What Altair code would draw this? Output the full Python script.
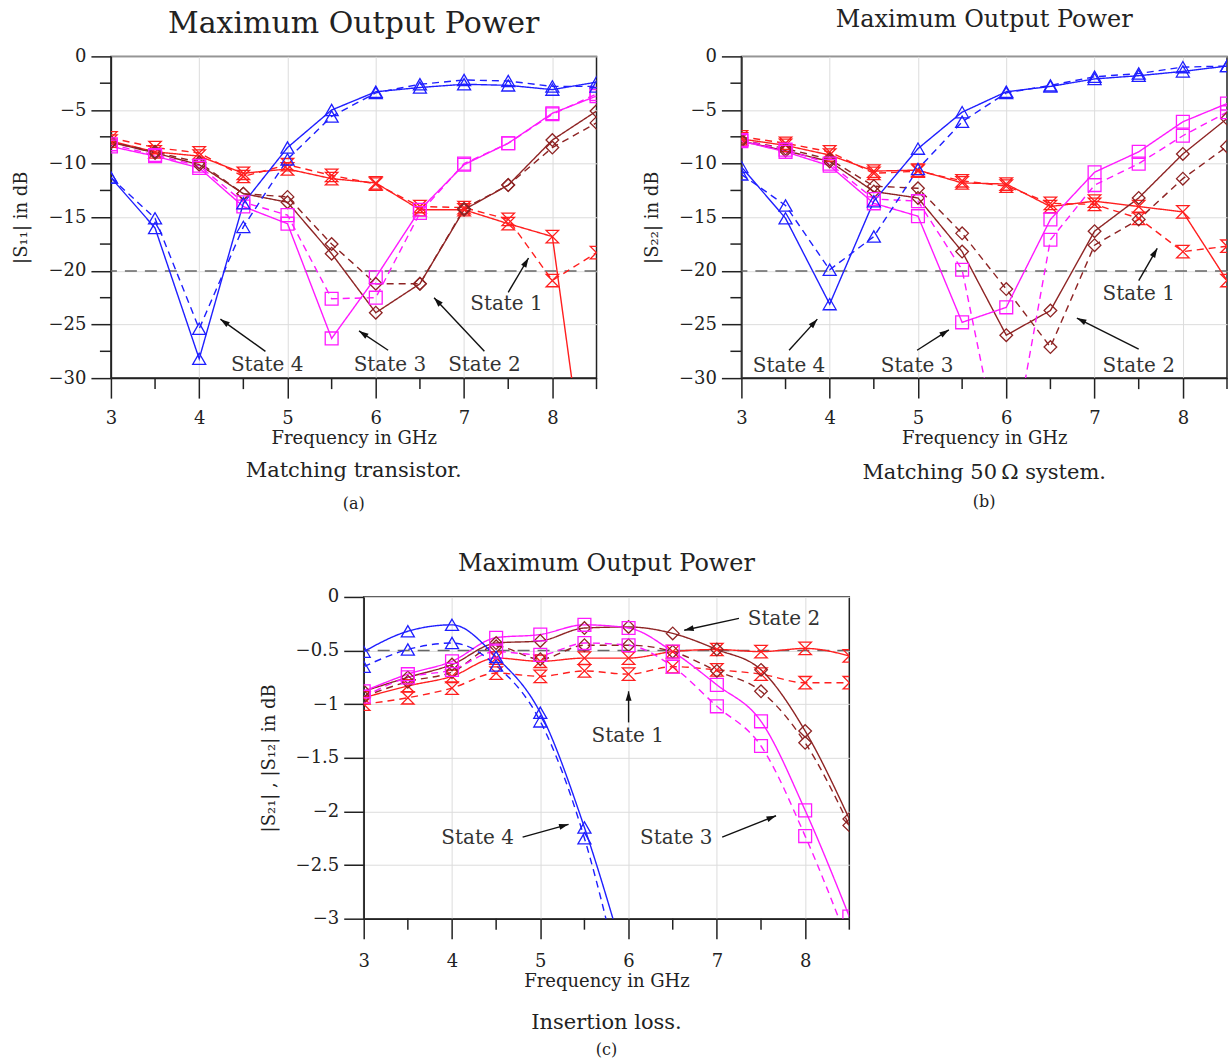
import math
import altair as alt
import pandas as pd

FONT = "DejaVu Serif"
AX = "#222222"

FREQ = [3.0, 3.5, 4.0, 4.5, 5.0, 5.5, 6.0, 6.5, 7.0, 7.5, 8.0, 8.5]
STATES = ["State 1", "State 2", "State 3", "State 4"]
COLORS = ["#ff1f1f", "#8e2424", "#ff1aff", "#1f1fff"]
HOURGLASS = "M-1,-1L1,-1L-1,1L1,1Z"
SHAPES = [HOURGLASS, "diamond", "square", "triangle-up"]
SIZES = [155, 170, 170, 200]
ARROW = "M0,0L-0.6,1.9L0.6,1.9Z"

X_TICKS = [3, 4, 5, 6, 7, 8]
X_MINOR = [3.5, 4.5, 5.5, 6.5, 7.5, 8.5]
Y_TICKS_AB = [-30, -25, -20, -15, -10, -5, 0]
Y_MINOR_AB = [-27.5, -22.5, -17.5, -12.5, -7.5, -2.5]
Y_TICKS_C = [-3, -2.5, -2, -1.5, -1, -0.5, 0]

# ---------------- panel (a): |S11| ----------------
A_S1_SOLID = [-7.9, -8.9, -9.3, -10.9, -10.5, -11.4, -11.8, -14.3, -14.3, -15.6, -16.8, -47.0]
A_S1_DASH = [-7.6, -8.5, -9.0, -11.2, -10.1, -11.1, -11.9, -14.0, -14.1, -15.2, -20.9, -18.3]
A_S2_SOLID = [-8.0, -9.0, -10.1, -12.8, -13.6, -18.4, -23.9, -21.2, -14.3, -12.0, -7.8, -5.1]
A_S2_DASH = [-8.0, -8.9, -9.9, -12.8, -13.1, -17.5, -21.2, -21.2, -14.2, -12.0, -8.5, -6.2]
A_S3_SOLID = [-8.4, -9.3, -10.4, -14.0, -15.6, -26.3, -20.6, -14.3, -10.1, -8.1, -5.3, -3.7]
A_S3_DASH = [-8.2, -9.2, -10.2, -13.6, -14.8, -22.6, -22.5, -14.6, -10.0, -8.1, -5.4, -3.5]
A_S4_SOLID = [-11.3, -16.0, -28.2, -13.7, -8.5, -5.0, -3.3, -2.9, -2.6, -2.7, -3.1, -2.4]
A_S4_DASH = [-11.3, -15.1, -25.4, -15.9, -9.6, -5.6, -3.4, -2.6, -2.2, -2.3, -2.8, -2.8]

A_TEXT = ["State 4", "State 3", "State 2", "State 1"]
A_TEXT_X = [4.77, 6.16, 7.23, 7.48]
A_TEXT_Y = [-28.8, -28.8, -28.8, -23.1]
A_ARR_X0 = [4.75, 6.14, 7.23, 7.50]
A_ARR_Y0 = [-27.5, -27.4, -27.5, -22.0]
A_ARR_X1 = [4.24, 5.81, 6.66, 7.73]
A_ARR_Y1 = [-24.5, -25.6, -22.5, -18.8]

# ---------------- panel (b): |S22| ----------------
B_S1_SOLID = [-7.7, -8.3, -9.2, -10.7, -10.6, -11.8, -11.9, -14.0, -13.5, -14.0, -14.5, -20.9]
B_S1_DASH = [-7.5, -8.1, -8.9, -10.9, -10.7, -11.6, -12.1, -13.7, -13.8, -15.1, -18.2, -17.7]
B_S2_SOLID = [-7.9, -8.8, -9.8, -12.6, -13.2, -18.2, -26.0, -23.7, -16.3, -13.2, -9.1, -5.8]
B_S2_DASH = [-7.8, -8.6, -9.6, -12.1, -12.3, -16.5, -21.7, -27.1, -17.6, -15.2, -11.4, -8.4]
B_S3_SOLID = [-7.9, -8.9, -10.2, -13.7, -14.9, -24.8, -23.4, -15.2, -10.8, -8.9, -6.1, -4.4]
B_S3_DASH = [-7.8, -8.7, -10.0, -13.3, -13.5, -19.9, -40.0, -17.1, -12.0, -10.0, -7.4, -5.2]
B_S4_SOLID = [-10.3, -15.1, -23.1, -13.5, -8.6, -5.2, -3.3, -2.8, -2.1, -1.8, -1.4, -0.9]
B_S4_DASH = [-11.0, -13.9, -19.9, -16.8, -10.5, -6.1, -3.4, -2.7, -1.9, -1.6, -1.0, -0.9]

B_TEXT = ["State 4", "State 3", "State 1", "State 2"]
B_TEXT_X = [3.54, 4.99, 7.50, 7.50]
B_TEXT_Y = [-28.9, -28.9, -22.2, -28.9]
B_ARR_X0 = [3.54, 4.99, 7.50, 7.50]
B_ARR_Y0 = [-27.4, -27.4, -20.9, -27.3]
B_ARR_X1 = [3.86, 5.35, 7.71, 6.80]
B_ARR_Y1 = [-24.5, -25.5, -17.9, -24.4]

# ---------------- panel (c): |S21|, |S12| ----------------
C_S1_SOLID = [-0.94, -0.83, -0.74, -0.57, -0.60, -0.57, -0.57, -0.51, -0.49, -0.51, -0.48, -0.55]
C_S1_DASH = [-1.00, -0.94, -0.85, -0.71, -0.74, -0.69, -0.72, -0.65, -0.68, -0.72, -0.80, -0.80]
C_S2_SOLID = [-0.88, -0.75, -0.63, -0.43, -0.41, -0.29, -0.28, -0.34, -0.49, -0.68, -1.25, -2.07]
C_S2_DASH = [-0.93, -0.79, -0.70, -0.46, -0.58, -0.45, -0.45, -0.51, -0.69, -0.88, -1.36, -2.13]
C_S3_SOLID = [-0.88, -0.72, -0.60, -0.38, -0.35, -0.26, -0.29, -0.51, -0.82, -1.16, -1.99, -2.98]
C_S3_DASH = [-0.93, -0.75, -0.68, -0.51, -0.54, -0.43, -0.45, -0.65, -1.02, -1.39, -2.23, -3.25]
C_S4_SOLID = [-0.51, -0.32, -0.26, -0.56, -1.08, -2.15, -3.5]
C_S4_DASH = [-0.65, -0.49, -0.43, -0.64, -1.16, -2.25, -3.9]

C_TEXT = ["State 4", "State 3", "State 1", "State 2"]
C_TEXT_X = [4.29, 6.54, 5.99, 7.76]
C_TEXT_Y = [-2.25, -2.25, -1.30, -0.21]
C_ARR_X0 = [4.80, 7.06, 6.00, 7.25]
C_ARR_Y0 = [-2.24, -2.24, -1.17, -0.20]
C_ARR_X1 = [5.32, 7.67, 6.00, 6.63]
C_ARR_Y1 = [-2.12, -2.04, -0.88, -0.31]

W = 486
H = 322


def series_frame(arrays):
    rows = []
    for (state, style), vals in arrays.items():
        for f, v in zip(FREQ, vals):
            rows.append({"f": f, "v": v, "state": state, "style": style,
                         "series": state + "-" + style})
    return pd.DataFrame(rows)


def ann_frame(text, tx, ty, x0, y0, x1, y1, ydom):
    px = W / (8.5 - 3.0)
    py = H / (ydom[1] - ydom[0])
    angs = []
    for a, b, c, d in zip(x0, y0, x1, y1):
        ang = math.degrees(math.atan2((c - a) * px, (d - b) * py)) % 360
        angs.append(ang)
    return pd.DataFrame({"text": text, "tx": tx, "ty": ty, "x0": x0, "y0": y0,
                         "x1": x1, "y1": y1, "ang": angs})


def panel(df, ydom, yticks, yminor, refv, ytitle, title, tsize, toff,
          caption, letter, cap_y, let_y, interp, ann, xlabpad=11):
    xs = alt.Scale(domain=[3, 8.5], nice=False, zero=False)
    ys = alt.Scale(domain=ydom, nice=False, zero=False)
    xaxis = alt.Axis(values=X_TICKS, title="Frequency in GHz", grid=True,
                     tickSize=20, labelPadding=xlabpad, labelFlush=False,
                     labelOverlap=False, format="~g", titlePadding=2)
    yaxis = alt.Axis(values=yticks, title=ytitle, grid=True, tickSize=20,
                     labelPadding=5, labelFlush=False, labelOverlap=False,
                     format="~g", titlePadding=17)

    def X(field):
        return alt.X(field, type="quantitative", scale=xs, axis=xaxis)

    def Y(field):
        return alt.Y(field, type="quantitative", scale=ys, axis=yaxis)

    layers = []
    base = alt.Chart(df)
    layers.append(alt.Chart(pd.DataFrame({"v": [refv]})).mark_rule(
        color="#666666", strokeDash=[12, 8], strokeWidth=1.5).encode(y=Y("v")))
    layers.append(base.mark_line(clip=True, strokeWidth=1.4, interpolate=interp).encode(
        x=X("f"), y=Y("v"),
        color=alt.Color("state:N", scale=alt.Scale(domain=STATES, range=COLORS), legend=None),
        strokeDash=alt.StrokeDash("style:N", scale=alt.Scale(domain=["solid", "dashed"],
                                  range=[[1, 0], [7, 5]]), legend=None),
        detail="series:N"))
    layers.append(base.mark_point(clip=True, filled=False, strokeWidth=1.3, opacity=1).encode(
        x=X("f"), y=Y("v"),
        color=alt.Color("state:N", scale=alt.Scale(domain=STATES, range=COLORS), legend=None),
        shape=alt.Shape("state:N", scale=alt.Scale(domain=STATES, range=SHAPES), legend=None),
        size=alt.Size("state:O", scale=alt.Scale(domain=STATES, range=SIZES), legend=None)))
    layers.append(alt.Chart(pd.DataFrame({"f": X_MINOR})).mark_rule(
        color=AX, strokeWidth=1.5).encode(x=X("f"), y=alt.value(H), y2=alt.value(H + 11)))
    if yminor:
        layers.append(alt.Chart(pd.DataFrame({"v": yminor})).mark_rule(
            color=AX, strokeWidth=1.5).encode(y=Y("v"), x=alt.value(0), x2=alt.value(-11)))
    adf = alt.Chart(ann)
    layers.append(adf.mark_rule(color="#111111", strokeWidth=1.4).encode(
        x=X("x0"), y=Y("y0"), x2="x1:Q", y2="y1:Q"))
    layers.append(adf.mark_point(shape=ARROW, filled=True, color="#111111", size=100,
                                 opacity=1).encode(
        x=X("x1"), y=Y("y1"), angle=alt.Angle("ang:Q", scale=None)))
    layers.append(adf.mark_text(font=FONT, fontSize=20, color="#333333").encode(
        x=X("tx"), y=Y("ty"), text="text:N"))
    layers.append(alt.Chart(pd.DataFrame({"t": [caption]})).mark_text(
        font=FONT, fontSize=21, color="#222222", baseline="middle").encode(
        text="t:N", x=alt.value(W / 2), y=alt.value(cap_y)))
    layers.append(alt.Chart(pd.DataFrame({"t": [letter]})).mark_text(
        font=FONT, fontSize=16, color="#222222", baseline="middle").encode(
        text="t:N", x=alt.value(W / 2), y=alt.value(let_y)))
    return alt.layer(*layers).properties(
        width=W, height=H,
        title=alt.TitleParams(text=title, fontSize=tsize, font=FONT, fontWeight="normal",
                              color="#222222", offset=toff, anchor="middle"))


df_a = series_frame({
    ("State 1", "solid"): A_S1_SOLID, ("State 1", "dashed"): A_S1_DASH,
    ("State 2", "solid"): A_S2_SOLID, ("State 2", "dashed"): A_S2_DASH,
    ("State 3", "solid"): A_S3_SOLID, ("State 3", "dashed"): A_S3_DASH,
    ("State 4", "solid"): A_S4_SOLID, ("State 4", "dashed"): A_S4_DASH})
df_b = series_frame({
    ("State 1", "solid"): B_S1_SOLID, ("State 1", "dashed"): B_S1_DASH,
    ("State 2", "solid"): B_S2_SOLID, ("State 2", "dashed"): B_S2_DASH,
    ("State 3", "solid"): B_S3_SOLID, ("State 3", "dashed"): B_S3_DASH,
    ("State 4", "solid"): B_S4_SOLID, ("State 4", "dashed"): B_S4_DASH})
df_c = series_frame({
    ("State 1", "solid"): C_S1_SOLID, ("State 1", "dashed"): C_S1_DASH,
    ("State 2", "solid"): C_S2_SOLID, ("State 2", "dashed"): C_S2_DASH,
    ("State 3", "solid"): C_S3_SOLID, ("State 3", "dashed"): C_S3_DASH,
    ("State 4", "solid"): C_S4_SOLID, ("State 4", "dashed"): C_S4_DASH})

ann_a = ann_frame(A_TEXT, A_TEXT_X, A_TEXT_Y, A_ARR_X0, A_ARR_Y0, A_ARR_X1, A_ARR_Y1, [-30, 0])
ann_b = ann_frame(B_TEXT, B_TEXT_X, B_TEXT_Y, B_ARR_X0, B_ARR_Y0, B_ARR_X1, B_ARR_Y1, [-30, 0])
ann_c = ann_frame(C_TEXT, C_TEXT_X, C_TEXT_Y, C_ARR_X0, C_ARR_Y0, C_ARR_X1, C_ARR_Y1, [-3, 0])

pa = panel(df_a, [-30, 0], Y_TICKS_AB, Y_MINOR_AB, -20, "|S\u2081\u2081| in dB",
           "Maximum Output Power", 30, 8, "Matching transistor.", "(a)", 415, 448,
           "linear", ann_a)
pb = panel(df_b, [-30, 0], Y_TICKS_AB, Y_MINOR_AB, -20, "|S\u2082\u2082| in dB",
           "Maximum Output Power", 24, 15, "Matching 50\u2009\u03a9 system.", "(b)", 417, 446,
           "linear", ann_b)
pc = panel(df_c, [-3, 0], Y_TICKS_C, [], -0.5, "|S\u2082\u2081| , |S\u2081\u2082| in dB",
           "Maximum Output Power", 24, 12, "Insertion loss.", "(c)", 426, 453,
           "monotone", ann_c, xlabpad=14)

spacer = alt.Chart(pd.DataFrame({"a": [0]})).mark_point(opacity=0).encode(
    x=alt.value(0), y=alt.value(0)).properties(
    width=147, height=10, view=alt.ViewBackground(stroke="transparent"))

top = alt.hconcat(pa, pb, spacing=44)
bottom = alt.hconcat(spacer, pc, spacing=0)
chart = alt.vconcat(top, bottom, spacing=38).properties(
    padding={"left": 12, "top": 7, "right": 0, "bottom": 0},
    background="white"
).configure_view(stroke=AX, strokeWidth=1.5).configure_axis(
    domainColor=AX, domainWidth=1.5, tickColor=AX, tickWidth=1.5,
    labelFont=FONT, titleFont=FONT, labelFontSize=18, titleFontSize=18,
    labelColor="#222222", titleColor="#222222", titleFontWeight="normal",
    gridColor="#dcdcdc", gridWidth=1)

chart.save("out.html", embed_options={"renderer": "svg", "actions": False})
